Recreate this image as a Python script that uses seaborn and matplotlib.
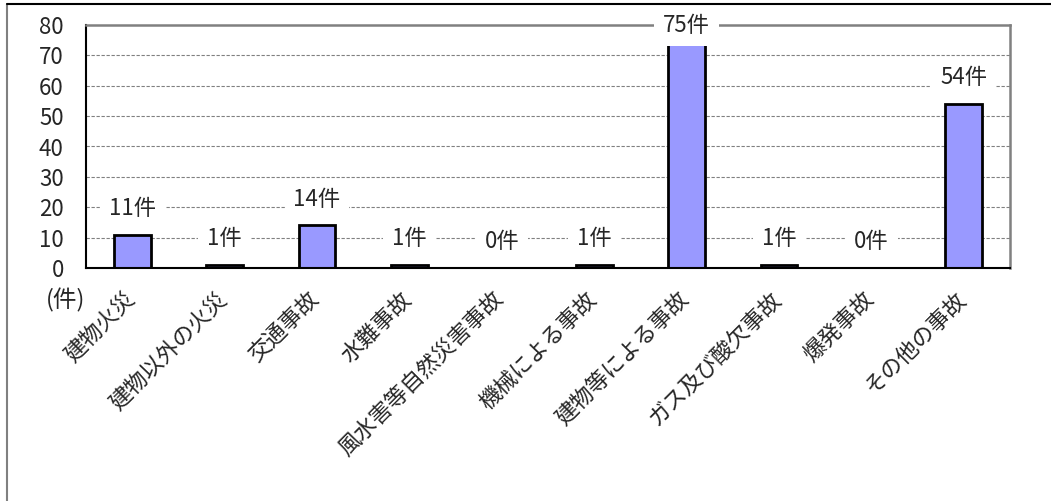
import matplotlib
matplotlib.use("Agg")
import matplotlib.pyplot as plt
import matplotlib.transforms as mtransforms
from matplotlib.lines import Line2D
import seaborn as sns
import pandas as pd

categories = ["建物火災", "建物以外の火災", "交通事故", "水難事故", "風水害等自然災害事故",
              "機械による事故", "建物等による事故", "ガス及び酸欠事故", "爆発事故", "その他の事故"]
values = [11, 1, 14, 1, 0, 1, 75, 1, 0, 54]
value_labels = ["11件", "1件", "14件", "1件", "0件", "1件", "75件", "1件", "0件", "54件"]
yticks = [0, 10, 20, 30, 40, 50, 60, 70, 80]
unit_label = "(件)"

sns.set_theme(style="white")
plt.rcParams['font.family'] = ['Noto Sans CJK JP', 'DejaVu Sans']

FS = 16

df = pd.DataFrame({"cat": categories, "val": values})

fig = plt.figure(figsize=(10.51, 5.01), dpi=100)
ax = fig.add_axes([86/1051, 1 - 268/501, (1010-86)/1051, (268-25)/501])

sns.barplot(data=df, x="cat", y="val", color="#9999FF", edgecolor="black",
            linewidth=2, width=0.4, saturation=1, ax=ax, zorder=2)

ax.set_ylim(0, 80)
ax.set_xlim(-0.5, len(categories) - 0.5)
ax.set_yticks(yticks)
ax.set_yticklabels([str(t) for t in yticks], fontsize=FS)
ax.tick_params(axis='y', length=0, pad=16)
ax.set_xlabel("")
ax.set_ylabel("")

# grid
for t in yticks[1:-1]:
    ax.axhline(t, color="#808080", linestyle=(0, (3, 1.5)), linewidth=0.8, zorder=1)

# spines
for s in ["left", "bottom"]:
    ax.spines[s].set_color("black")
    ax.spines[s].set_linewidth(1.5)
for s in ["top", "right"]:
    ax.spines[s].set_color("#808080")
    ax.spines[s].set_linewidth(1.8)

# x tick labels
ax.set_xticks(range(len(categories)))
ax.set_xticklabels(categories, fontsize=FS, rotation=45, ha="right", va="center",
                   rotation_mode="anchor")
ax.tick_params(axis='x', which='major', length=0, pad=0)
offset = mtransforms.ScaledTranslation(-0.01, -0.28, fig.dpi_scale_trans)
for lab in ax.get_xticklabels():
    lab.set_transform(lab.get_transform() + offset)

# minor ticks at category boundaries
ax.set_xticks([i + 0.5 for i in range(len(categories) - 1)], minor=True)
ax.tick_params(axis='x', which='minor', direction='in', length=5, width=1, color='black')

# value labels
for i, (v, lab) in enumerate(zip(values, value_labels)):
    y = min(v + 8.7, 79.7)
    ax.text(i, y, lab, ha="center", va="center", fontsize=FS, zorder=5,
            bbox=dict(boxstyle="square,pad=0.4", facecolor="white", edgecolor="none"),
            clip_on=False)

ax.text(-0.022, -0.132, unit_label, transform=ax.transAxes, ha="center", va="center",
        fontsize=FS + 1)

# outer border (left and top)
fig.add_artist(Line2D([7/1051, 7/1051], [0, 1 - 4/501], transform=fig.transFigure,
                      color="#808080", linewidth=1.5))
fig.add_artist(Line2D([7/1051, 1], [1 - 4/501, 1 - 4/501], transform=fig.transFigure,
                      color="black", linewidth=1.5))

fig.savefig("out.png", dpi=100)
